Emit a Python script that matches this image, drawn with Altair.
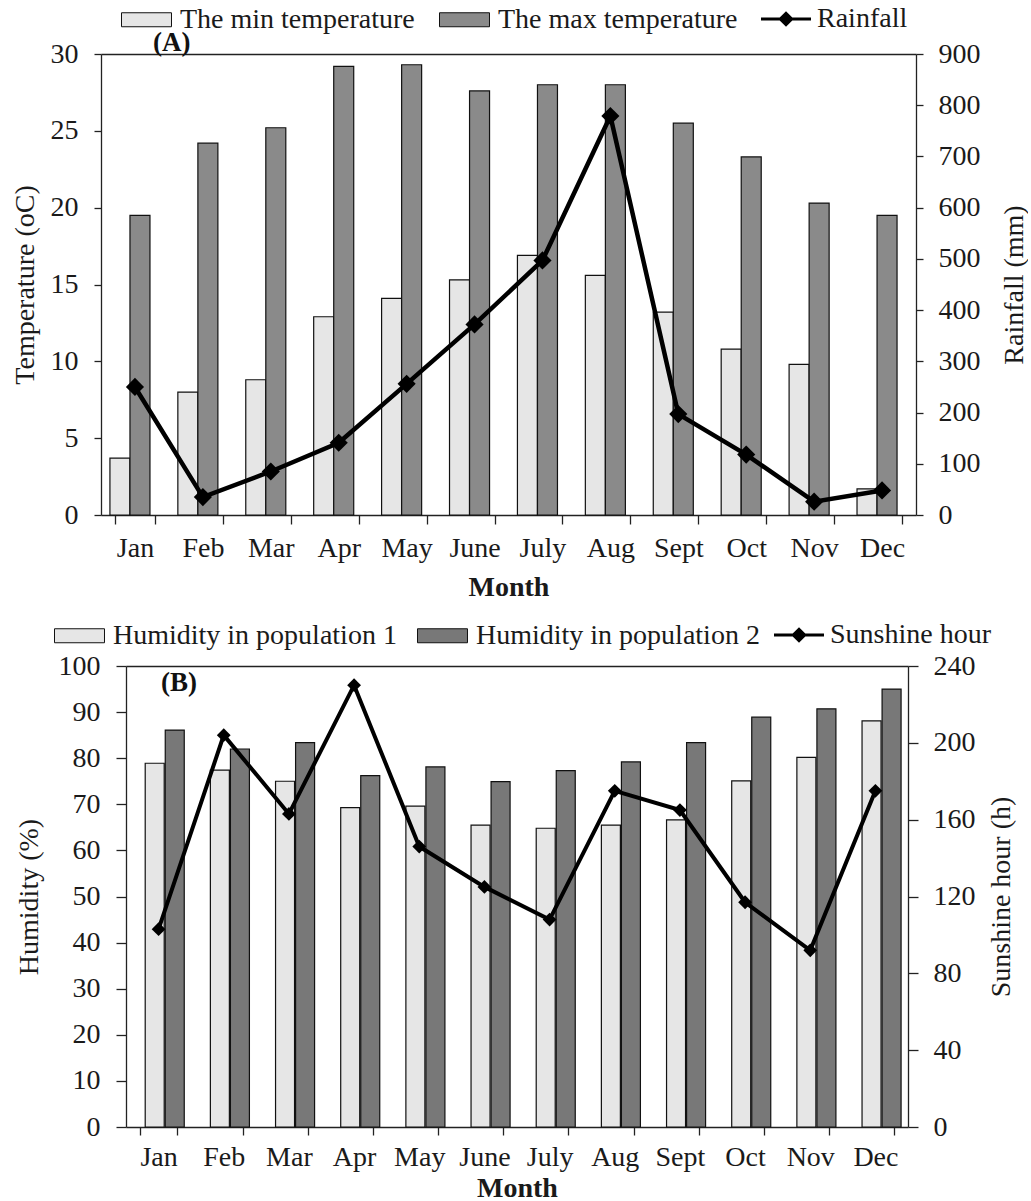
import altair as alt
import pandas as pd

months = ["Jan", "Feb", "Mar", "Apr", "May", "June", "July", "Aug", "Sept", "Oct", "Nov", "Dec"]

min_temp = [3.7, 8.0, 8.8, 12.9, 14.1, 15.3, 16.9, 15.6, 13.2, 10.8, 9.8, 1.7]
max_temp = [19.5, 24.2, 25.2, 29.2, 29.3, 27.6, 28.0, 28.0, 25.5, 23.3, 20.3, 19.5]
rainfall = [250, 35, 85, 141, 256, 372, 497, 779, 197, 118, 26, 48]

hum_pop1 = [78.9, 77.4, 75.0, 69.3, 69.6, 65.5, 64.8, 65.5, 66.6, 75.1, 80.2, 88.1]
hum_pop2 = [86.1, 82.0, 83.4, 76.2, 78.1, 74.9, 77.3, 79.2, 83.4, 88.9, 90.7, 95.0]
sunshine = [103, 204, 163, 230, 146, 125, 108, 175, 165, 117, 92, 175]

temp_ticks = [0, 5, 10, 15, 20, 25, 30]
rain_ticks = list(range(0, 901, 100))
hum_ticks = list(range(0, 101, 10))
sun_ticks = [0, 40, 80, 120, 160, 200, 240]

FONT = "Liberation Serif"
TXT = "#1a1a1a"
AX = "#222222"
# legend symbols (size 784 -> unit = 14 px); drawn from x=0 to x=50 of the entry
RECT = "M-1,-0.5H2.571V0.5H-1Z"
LINE_DIAMOND = "M-1,-0.11H2.571V0.11H-1Z M0.786,-0.56L1.346,0L0.786,0.56L0.226,0Z"


def panel(labels, vals1, vals2, fills, line_name, line_vals,
          xrange, pad_inner, bar_w, tick_x, xlab_pad, xtitle_pad,
          ydom, yticks, ytitle, y_off, ylab_pad, ytitle_pad, tick_y,
          rdom, rticks, rtitle, r_off, rlab_pad, rtitle_pad,
          tag, tag_x, tag_y, leg_x, leg_y, leg2_x, col_pad, pt_size, line_w):
    bars = pd.DataFrame({
        "month": months * 2,
        "series": [labels[0]] * 12 + [labels[1]] * 12,
        "value": vals1 + vals2,
    })
    line = pd.DataFrame({"month": months, "series": [line_name] * 12, "value": line_vals})

    x_enc = alt.X(
        "month:N", sort=months,
        scale=alt.Scale(range=xrange, paddingInner=pad_inner, paddingOuter=pad_inner / 2),
        axis=alt.Axis(title="Month", tickBand="extent", labelAngle=0,
                      titleFontWeight="bold", labelPadding=xlab_pad, titlePadding=xtitle_pad,
                      tickSize=tick_x),
    )

    bar_layer = alt.Chart(bars).mark_bar(stroke="#111", strokeWidth=1.2, width=bar_w).encode(
        x=x_enc,
        xOffset=alt.XOffset("series:N", sort=labels,
                            scale=alt.Scale(paddingInner=0, paddingOuter=0)),
        y=alt.Y("value:Q", scale=alt.Scale(domain=ydom, nice=False),
                axis=alt.Axis(title=ytitle, values=yticks, orient="left", offset=y_off,
                              labelPadding=ylab_pad, titlePadding=ytitle_pad,
                              tickSize=tick_y)),
        fill=alt.Fill("series:N", sort=labels,
                      scale=alt.Scale(domain=labels, range=fills),
                      legend=alt.Legend(title=None, orient="none", legendX=leg_x, legendY=leg_y,
                                        direction="horizontal", symbolType=RECT, symbolSize=784,
                                        symbolStrokeColor="#111", symbolStrokeWidth=1,
                                        columnPadding=col_pad, labelOffset=30, labelLimit=500,
                                        padding=0)),
    )

    base_line = alt.Chart(line).encode(
        x=alt.X("month:N", sort=months,
                axis=alt.Axis(orient="top", labels=False, ticks=False, title=None, domain=True)),
        y=alt.Y("value:Q", scale=alt.Scale(domain=rdom, nice=False),
                axis=alt.Axis(title=rtitle, values=rticks, orient="right", offset=r_off,
                              titleAngle=270, titleBaseline="top",
                              labelPadding=rlab_pad, titlePadding=rtitle_pad,
                              tickSize=tick_y)),
    )
    line_layer = base_line.mark_line(color="black", strokeWidth=line_w)
    pts = base_line.mark_point(filled=True, shape="diamond", size=pt_size, opacity=1).encode(
        color=alt.Color("series:N", scale=alt.Scale(domain=[line_name], range=["black"]),
                        legend=alt.Legend(title=None, orient="none", legendX=leg2_x, legendY=leg_y,
                                          direction="horizontal", symbolType=LINE_DIAMOND,
                                          symbolSize=784, symbolStrokeWidth=0,
                                          labelOffset=28, labelLimit=500, padding=0)),
    )
    tag_layer = alt.Chart(pd.DataFrame({"t": [tag]})).mark_text(
        font=FONT, fontSize=27, fontWeight="bold", align="left", baseline="middle", color="#111"
    ).encode(text="t:N", x=alt.value(tag_x), y=alt.value(tag_y))

    return alt.layer(
        bar_layer, alt.layer(line_layer, pts), tag_layer
    ).resolve_scale(
        y="independent", fill="independent", color="independent"
    ).resolve_axis(x="independent").properties(width=815, height=461)


panel_a = panel(
    ["The min temperature", "The max temperature"], min_temp, max_temp,
    ["#e6e6e6", "#8a8a8a"], "Rainfall", rainfall,
    [0, 815], 0.41, 20, 9, 10, 11,
    [0, 30], temp_ticks, "Temperature (oC)", 0, 16, 11, 7,
    [0, 900], rain_ticks, "Rainfall (mm)", 0, 15, 20,
    "(A)", 52, -11, 20, -49, 660, 22, 330, 4.5,
)

panel_b = panel(
    ["Humidity in population 1", "Humidity in population 2"], hum_pop1, hum_pop2,
    ["#e6e6e6", "#787878"], "Sunshine hour", sunshine,
    [25, 807], 0.42, 19, 8, 8, 3,
    [0, 100], hum_ticks, "Humidity  (%)", -25, 16, 15, 10,
    [0, 240], sun_ticks, "Sunshine hour (h)", -8, 15, 12,
    "(B)", 60, 17, -47, -45, 673, 18, 190, 4,
)

chart = alt.concat(panel_a, panel_b, columns=1, spacing=20).properties(
    padding={"left": 11, "top": 5, "right": 0, "bottom": 0},
    background="white",
).configure_view(
    strokeWidth=0
).configure_axis(
    labelFont=FONT, labelFontSize=28, labelColor=TXT,
    titleFont=FONT, titleFontSize=28, titleColor=TXT, titleFontWeight="normal",
    domainColor=AX, tickColor=AX, domainWidth=1.3, tickWidth=1.3, grid=False,
).configure_legend(
    labelFont=FONT, labelFontSize=28, labelColor=TXT,
)

chart.save("out.html", embed_options={"renderer": "svg", "actions": False})
